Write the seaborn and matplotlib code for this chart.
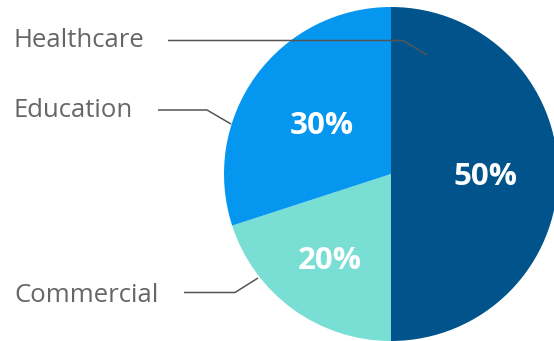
import matplotlib
matplotlib.use("Agg")
import matplotlib.pyplot as plt
import seaborn as sns
import numpy as np

sns.set_theme(style="white")
plt.rcParams['font.family'] = ['Open Sans', 'DejaVu Sans']

categories = ["Healthcare", "Commercial", "Education"]
values = [50, 20, 30]
colors = ["#01548B", "#79DED4", "#0597F0"]

W, H = 554, 341
fig = plt.figure(figsize=(W / 100, H / 100), dpi=100)
ax = fig.add_axes([0, 0, 1, 1])

R = 167.0
cx, cy = 391.0, 174.0

def px(x, y):
    return ((x - cx) / R, (cy - y) / R)

wedges, texts, autotexts = ax.pie(
    values, colors=colors, startangle=90, counterclock=False,
    radius=1.0, autopct=lambda p: f"{p:.0f}%", pctdistance=0.57,
    wedgeprops=dict(linewidth=0),
    textprops=dict(color="white", fontsize=22.5, fontweight="bold"),
)
# per-slice label radius adjustments (visual centre), baseline shifted by half cap height
pct_r = [0.566, 0.625, 0.515]
half_cap = 11.0 / R
for t, w, r in zip(autotexts, wedges, pct_r):
    ang = np.deg2rad((w.theta1 + w.theta2) / 2)
    t.set_position((r * np.cos(ang), r * np.sin(ang) - half_cap))
    t.set_va("baseline")
    t.set_ha("center")

ax.set_aspect('auto')
ax.set_xlim(-cx / R, (W - cx) / R)
ax.set_ylim(-(H - cy) / R, cy / R)
ax.axis('off')

# leader lines and outside labels (left x, baseline y in pixels)
label_pos = {"Healthcare": (14, 47), "Education": (14, 117), "Commercial": (14, 302)}
leaders = {
    "Healthcare": [(168, 40.5), (403, 40.5), (427, 55)],
    "Education": [(158, 110), (207, 110), (231, 124)],
    "Commercial": [(184, 292.5), (235, 292.5), (258, 278)],
}
for name in ["Healthcare", "Education", "Commercial"]:
    pts = [px(*p) for p in leaders[name]]
    xs, ys = zip(*pts)
    ax.plot(xs, ys, color="#555555", lw=1.1, solid_capstyle="butt", zorder=5)
    x, y = px(*label_pos[name])
    ax.text(x, y, name, color="#666666", fontsize=18.5, ha="left", va="baseline")

fig.savefig("out.png", dpi=100)
